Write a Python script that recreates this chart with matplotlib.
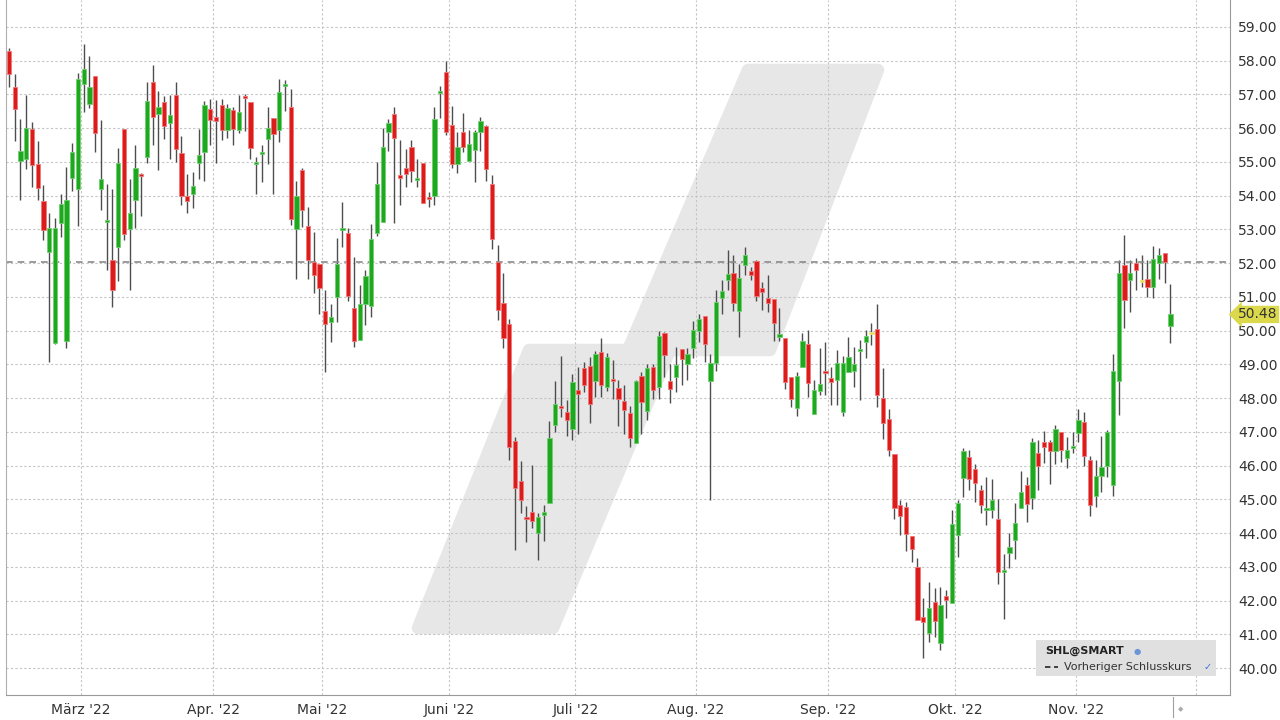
import numpy as np
import matplotlib
matplotlib.use("Agg")
import matplotlib.pyplot as plt
import matplotlib.transforms as mtransforms
from matplotlib.patches import Polygon, Rectangle
from matplotlib.lines import Line2D

# daily candles SHL@SMART, Feb - Nov 2022
opens = [
    58.30, 57.23, 55.02, 55.10, 55.98, 54.95, 53.83, 52.34, 49.63, 53.20,
    49.70, 54.53, 54.21, 57.30, 56.72, 57.55, 54.20, 53.22, 52.08, 52.49,
    55.99, 53.01, 53.88, 54.65, 55.14, 57.36, 56.43, 56.78, 56.15, 56.97,
    55.26, 53.98, 54.05, 54.98, 55.28, 56.56, 56.32, 56.69, 55.95, 56.53,
    55.95, 56.96, 56.78, 54.95, 55.23, 55.68, 56.29, 55.95, 57.27, 56.64,
    53.01, 54.75, 53.11, 52.02, 51.97, 50.57, 50.26, 51.00, 53.00, 52.88,
    50.66, 49.71, 50.80, 50.73, 52.88, 53.21, 55.90, 56.43, 54.62, 54.82,
    55.44, 54.47, 54.98, 53.97, 53.99, 57.03, 57.68, 56.10, 54.94, 55.89,
    55.02, 55.36, 55.90, 56.07, 54.34, 52.02, 50.81, 50.20, 46.74, 45.55,
    44.46, 44.61, 44.00, 44.54, 44.89, 47.20, 47.77, 47.58, 47.07, 48.25,
    48.88, 48.94, 48.50, 49.36, 48.33, 48.57, 48.31, 47.91, 47.57, 46.68,
    48.67, 47.62, 48.91, 48.33, 49.92, 48.50, 48.64, 49.46, 49.00, 49.49,
    49.98, 50.42, 48.51, 49.04, 50.97, 51.49, 51.70, 50.58, 51.95, 51.78,
    52.06, 51.26, 50.97, 50.95, 49.82, 49.79, 48.62, 47.72, 48.91, 49.60,
    47.52, 48.21, 48.79, 48.61, 48.54, 47.60, 48.78, 48.80, 49.42, 49.67,
    49.94, 50.06, 47.99, 47.37, 46.34, 44.83, 44.78, 43.91, 42.98, 41.52,
    41.03, 41.97, 40.73, 42.13, 41.94, 43.94, 45.62, 46.24, 45.89, 45.29,
    44.68, 44.67, 44.42, 42.84, 43.40, 43.79, 44.75, 45.42, 45.03, 46.38,
    46.70, 46.70, 46.43, 47.00, 46.21, 46.55, 46.97, 47.29, 46.18, 45.10,
    45.70, 45.99, 45.41, 48.51, 51.96, 51.50, 51.99, 51.46, 51.52, 51.30,
    52.00, 52.29, 50.14,
]
highs = [
    58.37, 57.62, 56.26, 56.98, 56.17, 55.62, 54.31, 53.50, 53.35, 54.04,
    54.84, 55.57, 57.64, 58.51, 58.14, 57.55, 56.24, 54.36, 54.21, 55.40,
    55.99, 54.50, 55.50, 54.67, 57.38, 57.88, 57.10, 56.94, 56.98, 57.38,
    55.77, 54.65, 54.71, 55.99, 56.81, 56.86, 56.84, 56.87, 56.71, 56.64,
    56.98, 57.02, 56.78, 55.14, 55.50, 56.63, 56.29, 57.47, 57.44, 57.17,
    54.44, 54.81, 53.67, 52.92, 51.97, 51.20, 50.78, 52.76, 53.81, 53.05,
    52.19, 51.35, 51.79, 53.16, 55.01, 56.02, 56.27, 56.62, 55.65, 55.39,
    55.65, 55.09, 54.98, 54.10, 56.62, 57.24, 57.98, 56.65, 55.89, 56.45,
    55.95, 55.95, 56.32, 56.10, 54.62, 52.55, 51.71, 50.34, 46.86, 46.14,
    44.79, 46.02, 44.59, 44.84, 47.31, 48.50, 49.26, 47.94, 48.72, 48.92,
    49.06, 49.23, 49.41, 49.77, 49.33, 49.12, 48.53, 48.38, 47.76, 48.53,
    48.77, 49.02, 49.02, 50.00, 49.96, 49.02, 49.51, 49.46, 49.49, 50.28,
    50.48, 50.42, 49.31, 51.19, 51.49, 52.39, 52.23, 51.98, 52.47, 51.88,
    52.10, 51.44, 51.66, 50.95, 50.68, 49.79, 48.62, 48.78, 49.94, 50.03,
    48.54, 49.49, 49.67, 48.93, 49.42, 49.25, 49.82, 49.52, 49.72, 50.01,
    50.23, 50.80, 48.88, 47.69, 46.34, 44.98, 44.91, 43.91, 43.25, 42.07,
    42.56, 42.36, 42.41, 42.31, 44.68, 44.98, 46.51, 46.46, 46.06, 45.42,
    45.67, 45.59, 45.00, 43.37, 44.01, 44.88, 45.84, 45.67, 46.82, 46.77,
    47.02, 46.77, 47.19, 47.00, 46.84, 47.00, 47.68, 47.58, 46.28, 46.17,
    46.88, 47.06, 49.31, 52.09, 52.83, 52.09, 52.16, 52.24, 52.09, 52.51,
    52.44, 52.29, 51.37,
]
lows = [
    57.23, 55.62, 53.88, 54.80, 54.26, 53.86, 52.69, 49.06, 49.60, 52.77,
    49.49, 54.13, 53.10, 56.47, 56.61, 55.28, 53.58, 51.80, 50.69, 51.48,
    52.68, 51.20, 53.05, 53.40, 54.96, 55.51, 54.76, 55.69, 55.09, 55.01,
    53.72, 53.50, 53.64, 54.50, 54.43, 55.50, 54.96, 55.65, 55.70, 55.50,
    55.87, 55.93, 55.10, 54.05, 54.42, 54.94, 54.05, 55.60, 56.50, 53.12,
    51.52, 53.08, 51.54, 51.12, 50.49, 48.77, 49.66, 50.26, 52.47, 50.88,
    49.51, 49.71, 50.16, 50.41, 52.80, 53.21, 55.31, 53.18, 53.72, 54.25,
    54.42, 54.27, 53.77, 53.67, 53.72, 56.30, 55.81, 54.82, 54.67, 55.29,
    55.02, 54.42, 55.31, 54.44, 52.42, 50.32, 49.48, 46.17, 43.50, 44.59,
    43.73, 44.15, 43.21, 43.75, 44.89, 47.00, 47.44, 46.87, 46.76, 46.95,
    48.18, 47.25, 48.03, 48.03, 48.20, 47.98, 47.17, 46.95, 46.54, 46.68,
    46.95, 47.35, 47.98, 47.98, 48.62, 47.86, 48.18, 48.40, 48.54, 49.20,
    49.66, 49.07, 44.99, 48.79, 50.50, 51.19, 50.57, 49.81, 51.65, 51.49,
    50.89, 50.60, 50.55, 49.70, 49.70, 48.27, 47.73, 47.47, 48.91, 48.04,
    47.52, 48.09, 48.09, 47.80, 47.80, 47.47, 48.78, 48.34, 47.95, 49.18,
    49.57, 47.75, 46.80, 46.28, 44.42, 43.94, 43.48, 43.15, 41.42, 40.29,
    40.78, 40.93, 40.52, 41.47, 41.94, 43.30, 45.06, 45.29, 44.93, 44.60,
    44.24, 44.45, 42.50, 41.46, 42.97, 43.24, 44.75, 44.33, 44.70, 45.29,
    46.08, 45.44, 46.05, 46.10, 45.93, 46.38, 46.69, 45.98, 44.50, 44.78,
    45.23, 45.66, 45.10, 47.50, 50.07, 50.54, 51.20, 51.30, 51.00, 50.96,
    51.52, 51.42, 49.64,
]
closes = [
    57.62, 56.57, 55.33, 56.00, 54.92, 54.24, 52.99, 53.05, 53.05, 53.74,
    53.88, 55.30, 57.45, 57.74, 57.23, 55.87, 54.48, 53.26, 51.19, 54.96,
    52.86, 53.49, 54.82, 54.59, 56.81, 56.32, 56.63, 56.07, 56.40, 55.39,
    54.00, 53.85, 54.28, 55.20, 56.69, 56.25, 56.20, 55.95, 56.61, 55.98,
    56.48, 56.91, 55.41, 54.99, 55.28, 56.01, 55.83, 57.08, 57.31, 53.32,
    53.99, 53.58, 52.09, 51.66, 51.27, 50.21, 50.41, 51.97, 53.05, 51.02,
    49.69, 50.80, 51.63, 52.73, 54.35, 55.44, 56.15, 55.72, 54.53, 54.65,
    54.73, 54.50, 53.79, 53.89, 56.27, 57.11, 55.90, 54.94, 55.45, 55.43,
    55.54, 55.89, 56.22, 54.80, 52.71, 50.60, 49.77, 46.54, 45.33, 44.99,
    44.41, 44.36, 44.49, 44.62, 46.82, 47.82, 47.71, 47.35, 48.48, 48.11,
    48.40, 47.82, 49.31, 48.40, 49.21, 48.52, 47.96, 47.66, 46.83, 48.51,
    47.89, 48.89, 48.23, 49.85, 49.29, 48.26, 48.97, 49.15, 49.31, 50.01,
    50.33, 49.61, 49.04, 50.86, 51.16, 51.68, 50.83, 51.57, 52.23, 51.65,
    51.02, 51.14, 50.83, 50.24, 49.90, 48.49, 47.97, 48.67, 49.70, 48.46,
    48.24, 48.42, 48.75, 48.49, 49.03, 49.05, 49.21, 49.00, 49.45, 49.84,
    49.94, 48.09, 47.25, 46.46, 44.75, 44.51, 43.97, 43.53, 41.42, 41.35,
    41.79, 41.40, 41.87, 42.02, 44.26, 44.88, 46.43, 45.59, 45.49, 44.83,
    44.72, 44.98, 42.84, 42.89, 43.58, 44.29, 45.23, 44.85, 46.69, 45.98,
    46.55, 46.43, 47.07, 46.46, 46.46, 46.58, 47.34, 46.28, 44.83, 45.70,
    45.95, 47.00, 48.81, 51.70, 50.91, 51.70, 51.80, 51.46, 51.30, 52.11,
    52.24, 52.03, 50.48,
]

prev_close = 52.03
last_price = 50.48
# index of the first trading day of each month
month_starts = [13, 36, 55, 77, 99, 120, 143, 165, 186, 207]
month_labels = ["März '22", "Apr. '22", "Mai '22", "Juni '22", "Juli '22",
                "Aug. '22", "Sep. '22", "Okt. '22", "Nov. '22", ""]
price_ticks = np.arange(40, 60)

o = np.array(opens)
h = np.array(highs)
l = np.array(lows)
c = np.array(closes)
x = np.arange(len(c))

up_col, down_col, flat_col = "#1fa71f", "#dc1b1b", "#e2dc4c"
colors = np.where(c > o, up_col, np.where(c < o, down_col, flat_col))
edges = np.where(c > o, "#6fd06f", np.where(c < o, "#f07a7a", "#efe98a"))

fig = plt.figure(figsize=(12.8, 7.2), dpi=100)
ax = fig.add_axes([6 / 1280, 25 / 720, 1224 / 1280, 695 / 720])

# light grey logo in the background (pixel outline -> axes fraction)
logo_px = [(418, 628), (553, 628), (670, 350), (770, 350), (878, 70),
           (748, 70), (628, 350), (529, 350)]
logo = [((px - 6) / 1224, (695 - py) / 695) for px, py in logo_px]
ax.add_patch(Polygon(logo, closed=True, transform=ax.transAxes, fc="#e7e7e7",
                     ec="#e7e7e7", lw=9, joinstyle="round", zorder=0.1))

# candles
ax.vlines(x, l, h, colors="#4d4d4d", lw=1, zorder=2)
body_h = np.maximum(np.abs(c - o), 0.06)
mid = (o + c) / 2
ax.bar(x, body_h, bottom=mid - body_h / 2, width=0.74, color=colors,
       edgecolor=edges, linewidth=0.6, zorder=3)

ax.axhline(prev_close, color="#8a8a8a", ls=(0, (4, 3)), lw=1.2, zorder=2.5)

ax.set_xlim(-0.52, 212.35)
ax.set_ylim(39.2, 59.8)

ax.yaxis.tick_right()
ax.set_yticks(price_ticks)
ax.set_yticklabels([f"{v:.2f}" for v in price_ticks])
ax.set_xticks(np.array(month_starts) - 0.5)
ax.set_xticklabels(month_labels)
ax.tick_params(axis="both", length=0, labelsize=10, labelcolor="#333333")
ax.tick_params(axis="y", pad=6)
ax.tick_params(axis="x", pad=6)

ax.set_axisbelow(True)
ax.grid(True, color="#c4c4c4", ls=(0, (2, 2)), lw=0.8)

ax.spines["top"].set_visible(False)
ax.spines["left"].set_color("#b0b0b0")
ax.spines["bottom"].set_color("#9a9a9a")
ax.spines["right"].set_color("#9a9a9a")

# last price tag
trans = mtransforms.blended_transform_factory(ax.transAxes, ax.transData)
ax.text(1.0065, last_price, f"{last_price:.2f}", transform=trans, ha="left",
        va="center", fontsize=10, color="#333333", zorder=6, clip_on=False,
        bbox=dict(boxstyle="larrow,pad=0.12", fc="#dcd84c", ec="none"))

# legend box
ax.add_patch(Rectangle((0.8415, 0.0273), 0.1471, 0.0518, transform=ax.transAxes,
                       fc="#e0e0e0", ec="none", zorder=4))
ax.text(0.849, 0.0633, "SHL@SMART", transform=ax.transAxes, fontsize=8,
        fontweight="bold", color="#222222", va="center", zorder=5)
ax.text(0.9215, 0.0633, "●", transform=ax.transAxes, fontsize=6,
        color="#6a95d8", va="center", zorder=5)
ax.add_line(Line2D([0.849, 0.8595], [0.0403, 0.0403], transform=ax.transAxes,
                   color="#333333", lw=1.3, ls=(0, (3, 2)), zorder=5))
ax.text(0.8644, 0.0403, "Vorheriger Schlusskurs", transform=ax.transAxes,
        fontsize=8, color="#333333", va="center", zorder=5)
ax.text(0.978, 0.0403, "✓", transform=ax.transAxes, fontsize=7,
        color="#3a6fd8", va="center", zorder=5)

# small marker under the last candle
fig.add_artist(Line2D([1173 / 1280] * 2, [3 / 720, 23 / 720], color="#a0a0a0", lw=0.8))
fig.text(1178 / 1280, 11 / 720, "◆", fontsize=5, color="#aaaaaa", va="center")

fig.savefig("out.png", dpi=100)
